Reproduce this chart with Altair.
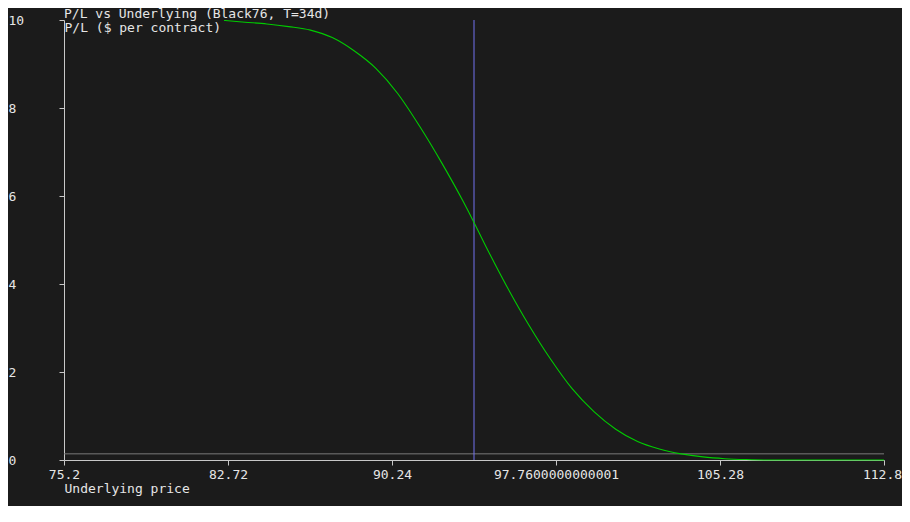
import altair as alt
import pandas as pd

# ---- data ----
prices = [82.54, 83.5, 84.5, 85.5, 86.5, 87.5, 88.5, 89.5, 90.5, 91.5,
          92.5, 93.5, 94.0, 94.5, 95.5, 96.5, 97.5, 98.5, 99.5, 100.5,
          101.5, 102.5, 103.5, 104.5, 105.5, 106.5, 107.5, 112.8]
pl = [9.99, 9.95, 9.91, 9.85, 9.77, 9.60, 9.30, 8.90, 8.33, 7.59,
      6.77, 5.88, 5.40, 4.90, 3.95, 3.08, 2.30, 1.62, 1.10, 0.70,
      0.42, 0.25, 0.14, 0.07, 0.03, 0.01, 0.0, 0.0]
ref_level = [0.14]
spot = [94.0]

x_tick_values = [75.2, 82.72, 90.24, 97.76, 105.28, 112.8]
x_tick_labels = ["75.2", "82.72", "90.24", "97.7600000000001", "105.28", "112.8"]
y_tick_values = [0, 2, 4, 6, 8, 10]

title_text = ["P/L vs Underlying (Black76, T=34d)"]
x_title = "Underlying price"
y_title = "P/L ($ per contract)"

# ---- styling ----
BG = "#1b1b1b"
TXT = "#e6e6e6"
AXIS = "#c8c8c8"
FONT = "DejaVu Sans Mono"

label_expr = "".join(
    f"abs(datum.value - {v}) < 1e-6 ? '{l}' : " for v, l in zip(x_tick_values, x_tick_labels)
) + "datum.label"

df_curve = pd.DataFrame({"price": prices, "pl": pl})
df_h = pd.DataFrame({"pl": ref_level})
df_v = pd.DataFrame({"price": spot})
df_title = pd.DataFrame({"t": title_text})

x_scale = alt.Scale(domain=[75.2, 112.8], nice=False, zero=False)
y_scale = alt.Scale(domain=[0, 10], nice=False, zero=False)

x_axis = alt.Axis(
    values=x_tick_values, labelExpr=label_expr, grid=False,
    domainColor=AXIS, tickColor=AXIS, tickSize=5, labelColor=TXT,
    labelFont=FONT, labelFontSize=13, labelPadding=3, labelFlush=False,
    labelOffset={"condition": {"test": "datum.value > 112", "value": -2}, "value": 0},
    labelOverlap=False, title=x_title, titleFont=FONT, titleFontSize=13,
    titleFontWeight="normal", titleColor=TXT, titleX=0, titleY=32,
    titleAlign="left", titleAnchor="start", titleBaseline="alphabetic",
)
y_axis = alt.Axis(
    values=y_tick_values, grid=False, domainColor=AXIS, tickColor=AXIS,
    tickSize=5, labelColor=TXT, labelFont=FONT, labelFontSize=13,
    labelAlign="left", labelBaseline="middle", labelPadding=51, labelFlush=False,
    title=y_title, titleFont=FONT, titleFontSize=13, titleFontWeight="normal",
    titleColor=TXT, titleAngle=0, titleX=0, titleY=11, titleAlign="left",
    titleBaseline="alphabetic",
)

hrule = alt.Chart(df_h).mark_rule(color="#7a7a7a", strokeWidth=1).encode(
    y=alt.Y("pl:Q", scale=y_scale, axis=y_axis)
)
vrule = alt.Chart(df_v).mark_rule(color="#7272f0", strokeWidth=1).encode(
    x=alt.X("price:Q", scale=x_scale, axis=x_axis)
)
line = alt.Chart(df_curve).mark_line(color="#00cc00", strokeWidth=1.1, interpolate="monotone").encode(
    x=alt.X("price:Q", scale=x_scale, axis=x_axis),
    y=alt.Y("pl:Q", scale=y_scale, axis=y_axis),
)
title = alt.Chart(df_title).mark_text(
    font=FONT, fontSize=13, color=TXT, align="left", baseline="alphabetic"
).encode(x=alt.value(0), y=alt.value(-2), text="t:N")

chart = (
    alt.layer(hrule, vrule, line, title)
    .properties(
        width=820,
        height=440,
        autosize=alt.AutoSizeParams(type="none"),
        padding={"left": 56, "top": 12, "right": 18, "bottom": 46},
        background=BG,
    )
    .configure_view(stroke=None)
)

chart.save("out.html", embed_options={"renderer": "svg", "actions": False})
